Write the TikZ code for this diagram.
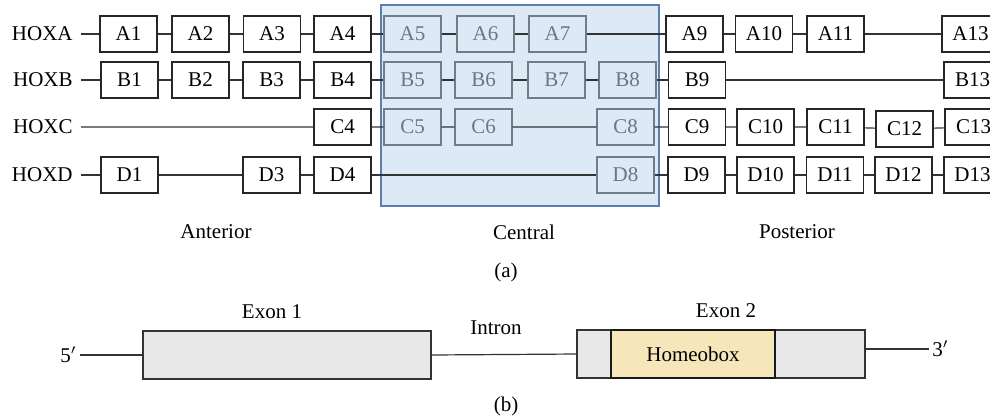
\documentclass[tikz,border=0pt]{standalone}
\usepackage{fontspec}
\setmainfont{Liberation Serif}
\definecolor{centralblue}{HTML}{DDE9F4}
\definecolor{centraledge}{HTML}{5A7DB3}
\definecolor{midedge}{HTML}{6E7D8B}
\definecolor{midtext}{HTML}{6A7886}
\definecolor{exongray}{HTML}{E8E8E8}
\definecolor{homeoyellow}{HTML}{F5E7BA}
\tikzset{
  gene/.style = {draw = black!85, fill = white, line width = 0.6pt,
    minimum width = 28.5pt, minimum height = 18pt, inner sep = 0pt},
  midgene/.style = {gene, draw = midedge, fill = centralblue, text = midtext},
  hoxlabel/.style = {anchor = east, inner sep = 4pt},
  link/.style = {draw = black!80, line width = 0.6pt},
  exon/.style = {draw = black!80, fill = exongray, line width = 0.6pt,
    minimum width = 144pt, minimum height = 24pt, inner sep = 0pt}
}
\begin{document}
\begin{tikzpicture}[x = 0.5pt, y = -0.5pt, font = \fontsize{10.5}{12}\selectfont]
        \clip (0, 0) rectangle (990, 419);
        % central region
        \draw [fill = centralblue, draw = centraledge, line width = 0.7pt] (381, 5) rectangle (659, 206);
        % row labels
        \node [hoxlabel] (hoxa) at (81, 34) {HOXA};
        \node [hoxlabel] (hoxb) at (81, 80) {HOXB};
        \node [hoxlabel] (hoxc) at (81, 127) {HOXC};
        \node [hoxlabel] (hoxd) at (81, 175) {HOXD};
        % HOXA
        \node [gene] (a1) at (128.5, 34) {A1};
        \node [gene] (a2) at (200.5, 34) {A2};
        \node [gene] (a3) at (272, 34) {A3};
        \node [gene] (a4) at (342.5, 34) {A4};
        \node [midgene] (a5) at (412.5, 34) {A5};
        \node [midgene] (a6) at (485.5, 34) {A6};
        \node [midgene] (a7) at (557.5, 34) {A7};
        \node [gene] (a9) at (694.5, 34) {A9};
        \node [gene] (a10) at (764, 34) {A10};
        \node [gene] (a11) at (835.5, 34) {A11};
        \node [gene] (a13) at (970.5, 34) {A13};
        \draw [link] (hoxa) -- (a1) -- (a2) -- (a3) -- (a4) -- (a5) -- (a6) -- (a7) -- (a9) -- (a10) -- (a11) -- (a13);
        % HOXB
        \node [gene] (b1) at (129.5, 80) {B1};
        \node [gene] (b2) at (200.5, 80) {B2};
        \node [gene] (b3) at (271.5, 80) {B3};
        \node [gene] (b4) at (342.5, 80) {B4};
        \node [midgene] (b5) at (412.5, 80) {B5};
        \node [midgene] (b6) at (483.5, 80) {B6};
        \node [midgene] (b7) at (556.5, 80) {B7};
        \node [midgene] (b8) at (627.5, 80) {B8};
        \node [gene] (b9) at (697, 80) {B9};
        \node [gene] (b13) at (972.5, 80) {B13};
        \draw [link] (hoxb) -- (b1) -- (b2) -- (b3) -- (b4) -- (b5) -- (b6) -- (b7) -- (b8) -- (b9) -- (b13);
        % HOXC
        \node [gene] (c4) at (342.5, 127) {C4};
        \node [midgene] (c5) at (412.5, 127) {C5};
        \node [midgene] (c6) at (483.5, 127) {C6};
        \node [midgene] (c8) at (625.5, 127) {C8};
        \node [gene] (c9) at (697, 127) {C9};
        \node [gene] (c10) at (765.5, 127) {C10};
        \node [gene] (c11) at (835.5, 127) {C11};
        \node [gene] (c12) at (904.5, 129) {C12};
        \node [gene] (c13) at (973.5, 127) {C13};
        \draw [link] (hoxc) -- (c4) -- (c5) -- (c6) -- (c8) -- (c9) -- (c10) -- (c11) -- (c12) -- (c13);
        % HOXD
        \node [gene] (d1) at (129.5, 175) {D1};
        \node [gene] (d3) at (271.5, 175) {D3};
        \node [gene] (d4) at (342.5, 175) {D4};
        \node [midgene] (d8) at (625.5, 175) {D8};
        \node [gene] (d9) at (696.5, 175) {D9};
        \node [gene] (d10) at (765.5, 175) {D10};
        \node [gene] (d11) at (835, 175) {D11};
        \node [gene] (d12) at (903.5, 175) {D12};
        \node [gene] (d13) at (972.5, 175) {D13};
        \draw [link] (hoxd) -- (d1) -- (d3) -- (d4) -- (d8) -- (d9) -- (d10) -- (d11) -- (d12) -- (d13);
        % regions
        \node (anterior) at (216, 232) {Anterior};
        \node (central) at (524, 232) {Central};
        \node (posterior) at (797, 232) {Posterior};
        \node (capa) at (506, 272) {(a)};
        % gene structure
        \node [inner sep = 1.5pt, anchor = east] (five) at (80, 355) {5$'$};
        \node [exon] (exon1) at (287, 355) {};
        \node [exon] (exon2) at (721, 354) {};
        \node [exon, fill = homeoyellow, draw = black!90, minimum width = 82pt] (homeo) at (693, 354) {Homeobox};
        \node [inner sep = 1.5pt, anchor = west] (three) at (929, 349) {3$'$};
        \draw [link] (five) -- (exon1.west);
        \draw [link] (exon1.east) -- (exon2.west);
        \draw [link] (exon2.east |- three.west) -- (three.west);
        \node (exonone) at (272, 312) {Exon 1};
        \node (intron) at (496, 328) {Intron};
        \node (exontwo) at (726, 311) {Exon 2};
        \node (capb) at (506, 406) {(b)};
\end{tikzpicture}
\end{document}
